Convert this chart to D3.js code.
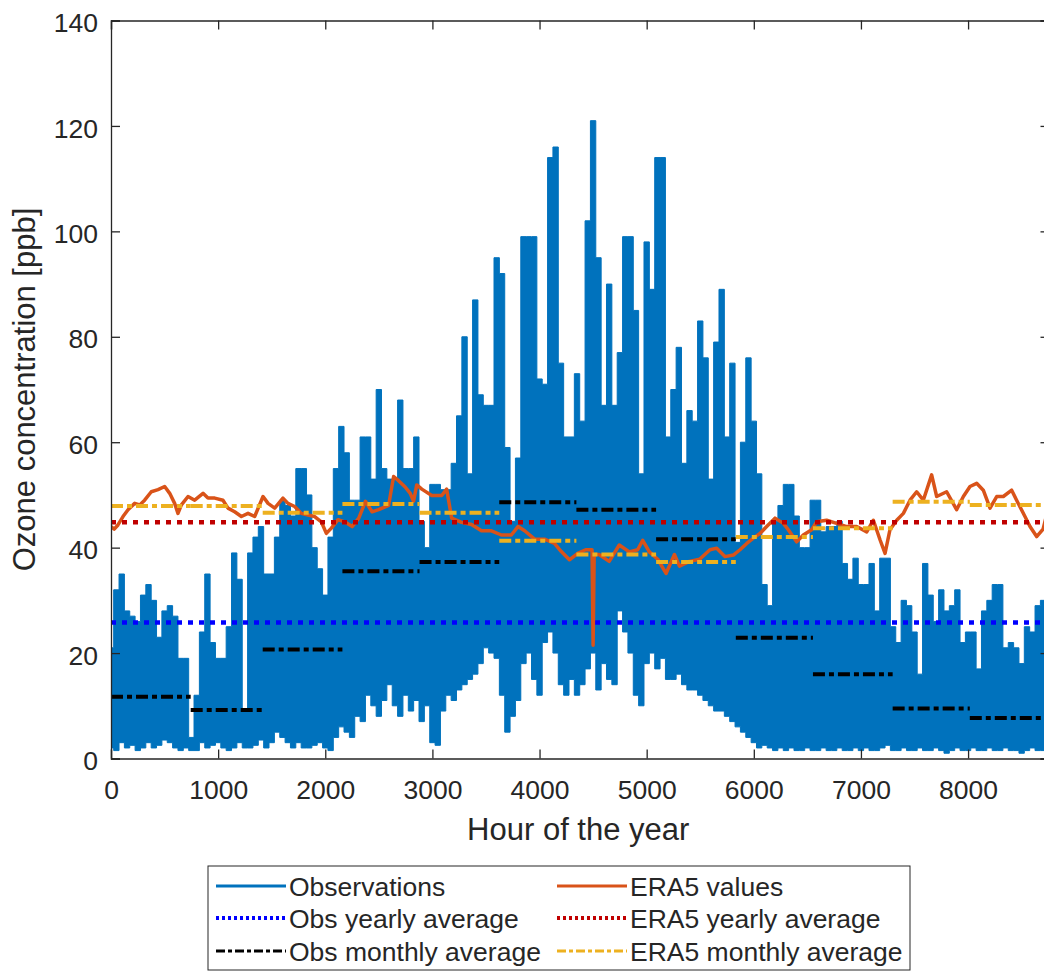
<!DOCTYPE html>
<html>
<head>
<meta charset="utf-8">
<script src="https://cdn.jsdelivr.net/npm/d3@7"></script>
<style>
  body { margin: 0; background: #fff; }
  text { font-family: "Liberation Sans", Arial, Helvetica, sans-serif; fill: #262626; }
</style>
</head>
<body>
<svg id="chart" width="1044" height="974"></svg>
<script>
// Ozone observations vs ERA5, hourly over one year

// observations: upper / lower envelope of the hourly series, one value per 50 h
var obsStep = 50;
var obsHigh = [
  21,32,35,28,27,26,31,33,30,23,28,29,27,19,19,4,12,24,35,22,
  19,19,25,39,34,9,39,42,44,35,35,42,49,48,46,55,55,50,40,36,
  31,42,55,63,58,49,49,61,61,53,70,55,53,53,68,55,55,61,45,40,
  52,52,51,51,56,65,80,54,87,69,67,67,95,92,59,45,57,99,99,99,
  72,71,114,116,75,61,61,73,64,102,121,95,67,90,67,77,99,99,85,54,
  98,89,114,114,61,70,78,56,66,64,83,76,53,79,89,61,75,41,60,76,
  64,54,33,29,45,48,52,52,46,40,40,49,49,43,44,44,45,37,34,38,
  33,33,37,28,38,38,25,22,30,29,24,16,37,31,26,32,28,29,32,22,
  24,24,17,28,30,33,33,21,22,21,18,25,24,29,30,35
];
var obsLow = [
  2,1.5,3,2,2.5,1.5,2,3,2,2.5,3.5,3,2,1.5,2,1.5,1.5,3,2,2.5,
  3,2,1.5,2,3,2,2,2.5,3.5,2,3,5,4,3,2,3,2,2,2.5,3,
  2,1.5,4,6,5,4,8,7,12,10,8,11,14,10,8,12,9,11,7,10,
  3,2.5,9,12,11,13,14,15,16,18,21,20,19,12,5,8,11,18,20,15,
  12,22,24,20,14,12,15,12,14,17,20,13,18,15,14,28,24,20,12,10,
  18,20,17,19,15,15,16,14,13,13,12,11,10,9,9,8,7,6,5,4,
  3,2,2.5,2,1.5,2,1.5,2,1.5,1.5,2,1.5,1.5,2,1.5,1.5,2,1.5,1.5,2,
  1.5,2,1.5,1.5,2,2.5,1.5,1.5,2,1.5,1.5,2,1.5,1.5,2,1.5,1,1.5,2,1.5,
  1.5,2,1.5,1.5,2,1.5,1.5,2,1.5,1.5,1,1.5,2,1.5,1.5,2
];

// ERA5 values (hour, ppb)
var eraHours = [
  0,30,65,112,159,221,268,314,376,439,501,548,594,625,657,719,781,859,905,968,
  1045,1092,1154,1217,1279,1341,1419,1466,1528,1605,1652,1714,1777,1839,1901,1963,2010,2057,2119,2181,
  2251,2313,2375,2437,2498,2591,2638,2684,2746,2793,2824,2854,2901,2994,3087,3133,3180,3272,3365,3458,
  3551,3644,3737,3799,3861,3954,4046,4139,4201,4279,4356,4431,4490,4500,4510,4556,4650,4744,4838,4916,
  4963,5025,5103,5181,5259,5306,5400,5494,5591,5654,5731,5809,5871,5934,5996,6058,6120,6198,6276,6322,
  6400,6462,6540,6587,6680,6774,6867,6960,7054,7116,7178,7225,7271,7334,7396,7458,7520,7582,7660,7707,
  7800,7893,7956,8018,8080,8142,8205,8267,8329,8407,8453,8531,8578,8640,8700,8760
];
var eraValues = [
  44,43.5,44.3,45.9,47.2,48.4,48.1,49,50.6,51,51.6,50.3,48.4,46.5,48.1,49.7,49,50.3,49.4,49.4,
  49,47.5,46.8,45.9,46.5,45.9,49.7,48.4,47.5,49.4,48.4,47.8,46.5,46.2,45.9,44.9,42.7,43.7,45.3,44.9,
  44,45.6,48.8,46.8,47.2,48,53.5,52.7,51.5,50.3,48.8,51.9,51.1,49.9,49.9,51.1,45.6,44.8,44.4,43.2,
  43.2,42.4,42.4,44,43.2,41.6,41.6,40.8,39.3,37.7,38.9,39.6,39.6,21.5,38.7,38.7,37.4,40.5,39.2,39.6,
  41.4,39.2,37.8,35.1,38.7,36.5,37.4,37.8,39.6,39.9,38.3,38.6,39.6,40.8,41.8,42.7,44,45.6,44.6,43.4,
  41.1,42.4,43.4,44.9,45.2,44.6,44,44,43,45.2,41.5,38.9,43.4,45.2,46.5,49,50.6,49,53.8,49.7,
  50.6,47.2,49.7,51.6,52.2,50.9,47.5,49.7,49.7,50.9,49,45.9,44,42.1,43.5,48.4
];

// yearly and monthly averages
var obsYearly = 25.8;
var eraYearly = 44.8;
var monthEdges = [0,744,1416,2160,2880,3624,4344,5088,5832,6552,7296,8016,8760];
var obsMonthly = [11.7,9.2,20.7,35.5,37.3,48.6,47.2,41.6,22.9,16.0,9.5,7.7];
var eraMonthly = [47.9,47.9,46.6,48.3,46.6,41.3,38.7,37.3,42.0,43.7,48.7,48.1];

var xTicks = [0,1000,2000,3000,4000,5000,6000,7000,8000];
var yTicks = [0,20,40,60,80,100,120,140];

var legendLabels = ["Observations","ERA5 values","Obs yearly average","ERA5 yearly average","Obs monthly average","ERA5 monthly average"];

var svg = d3.select("#chart");

var x = d3.scaleLinear().domain([0, 8760]).range([111, 1049.5]);
var y = d3.scaleLinear().domain([0, 140]).range([758.5, 20.5]);

svg.append("clipPath").attr("id", "plotclip")
  .append("rect")
  .attr("x", x(0)).attr("y", y(140))
  .attr("width", x(8760) - x(0)).attr("height", y(0) - y(140));

var plot = svg.append("g").attr("clip-path", "url(#plotclip)");

// observations as a band between the envelopes
var obsData = obsHigh.map(function(v, i){
  return {h: i * obsStep, hi: v, lo: obsLow[i]};
});
var obsArea = d3.area()
  .x(function(d){ return x(d.h); })
  .y0(function(d){ return y(d.lo); })
  .y1(function(d){ return y(d.hi); })
  .curve(d3.curveStep);
plot.append("path")
  .datum(obsData)
  .attr("d", obsArea)
  .style("fill", "#0072BD")
  .style("stroke", "#0072BD")
  .style("stroke-width", 1);

var dotted = "5,6";
var dashdot = "12,4,5,4";

// obs yearly
plot.append("line")
  .attr("x1", x(0)).attr("x2", x(8760))
  .attr("y1", y(obsYearly)).attr("y2", y(obsYearly))
  .style("stroke", "#0000FF").style("stroke-width", 4.5)
  .style("stroke-dasharray", dotted);

// obs monthly
plot.selectAll(".obsm")
  .data(obsMonthly)
  .enter()
  .append("line")
  .attr("class", "obsm")
  .attr("x1", function(d, i){ return x(monthEdges[i]); })
  .attr("x2", function(d, i){ return x(monthEdges[i+1]); })
  .attr("y1", function(d){ return y(d); })
  .attr("y2", function(d){ return y(d); })
  .style("stroke", "#000").style("stroke-width", 4)
  .style("stroke-dasharray", dashdot);

// ERA5 line
var eraLine = d3.line()
  .x(function(d, i){ return x(eraHours[i]); })
  .y(function(d){ return y(d); });
plot.append("path")
  .datum(eraValues)
  .attr("d", eraLine)
  .style("fill", "none")
  .style("stroke", "#D95319")
  .style("stroke-width", 3.5)
  .style("stroke-linejoin", "round");

// ERA5 yearly
plot.append("line")
  .attr("x1", x(0)).attr("x2", x(8760))
  .attr("y1", y(eraYearly)).attr("y2", y(eraYearly))
  .style("stroke", "#C00000").style("stroke-width", 4.5)
  .style("stroke-dasharray", dotted);

// ERA5 monthly
plot.selectAll(".eram")
  .data(eraMonthly)
  .enter()
  .append("line")
  .attr("class", "eram")
  .attr("x1", function(d, i){ return x(monthEdges[i]); })
  .attr("x2", function(d, i){ return x(monthEdges[i+1]); })
  .attr("y1", function(d){ return y(d); })
  .attr("y2", function(d){ return y(d); })
  .style("stroke", "#EDB120").style("stroke-width", 4)
  .style("stroke-dasharray", dashdot);

// axes, MATLAB style box with inward ticks
var fontSize = 26.5;
var gx = svg.append("g").attr("transform", "translate(0," + y(0) + ")")
  .call(d3.axisBottom(x).tickValues(xTicks).tickSize(-9).tickPadding(22).tickFormat(d3.format("d")));
var gxt = svg.append("g").attr("transform", "translate(0," + y(140) + ")")
  .call(d3.axisTop(x).tickValues(xTicks).tickSize(-9).tickFormat(""));
var gy = svg.append("g").attr("transform", "translate(" + x(0) + ",0)")
  .call(d3.axisLeft(y).tickValues(yTicks).tickSize(-9).tickPadding(13));
var gyr = svg.append("g").attr("transform", "translate(" + x(8760) + ",0)")
  .call(d3.axisRight(y).tickValues(yTicks).tickSize(-9).tickFormat(""));

[gx, gxt, gy, gyr].forEach(function(g){
  g.select(".domain").style("stroke", "#262626").style("stroke-width", 1.3);
  g.selectAll(".tick line").style("stroke", "#262626").style("stroke-width", 1.3);
  g.selectAll(".tick text").style("font-size", fontSize + "px")
    .style("fill", "#262626").attr("font-family", null);
});
gy.selectAll(".tick text").attr("dy", "0.42em");

svg.append("text")
  .attr("x", (x(0) + x(8760)) / 2 - 2)
  .attr("y", 840)
  .attr("text-anchor", "middle")
  .style("font-size", "31px")
  .text("Hour of the year");

svg.append("text")
  .attr("transform", "translate(35," + ((y(0) + y(140)) / 2) + ") rotate(-90)")
  .attr("text-anchor", "middle")
  .style("font-size", "31px")
  .text("Ozone concentration [ppb]");

// legend
var legend = svg.append("g");
legend.append("rect")
  .attr("x", 208).attr("y", 866)
  .attr("width", 702).attr("height", 104)
  .style("fill", "#fff").style("stroke", "#262626").style("stroke-width", 1);

var legendStyles = [
  {color: "#0072BD", dash: null, w: 3},
  {color: "#D95319", dash: null, w: 3},
  {color: "#0000FF", dash: "3,3", w: 4},
  {color: "#C00000", dash: "3,3", w: 4},
  {color: "#000", dash: "9,3,4,3", w: 3},
  {color: "#EDB120", dash: "9,3,4,3", w: 3}
];
var legendCols = [216, 557];
var legendRows = [886, 918, 951];

var items = legend.selectAll(".item")
  .data(legendLabels)
  .enter()
  .append("g")
  .attr("class", "item")
  .attr("transform", function(d, i){
    return "translate(" + legendCols[i % 2] + "," + legendRows[Math.floor(i / 2)] + ")";
  });
items.append("line")
  .attr("x1", 0).attr("x2", 70).attr("y1", 0).attr("y2", 0)
  .style("stroke", function(d, i){ return legendStyles[i].color; })
  .style("stroke-width", function(d, i){ return legendStyles[i].w; })
  .style("stroke-dasharray", function(d, i){ return legendStyles[i].dash; });
items.append("text")
  .attr("x", 73).attr("y", 0).attr("dy", "0.36em")
  .style("font-size", "26.5px")
  .text(function(d){ return d; });
</script>
</body>
</html>
